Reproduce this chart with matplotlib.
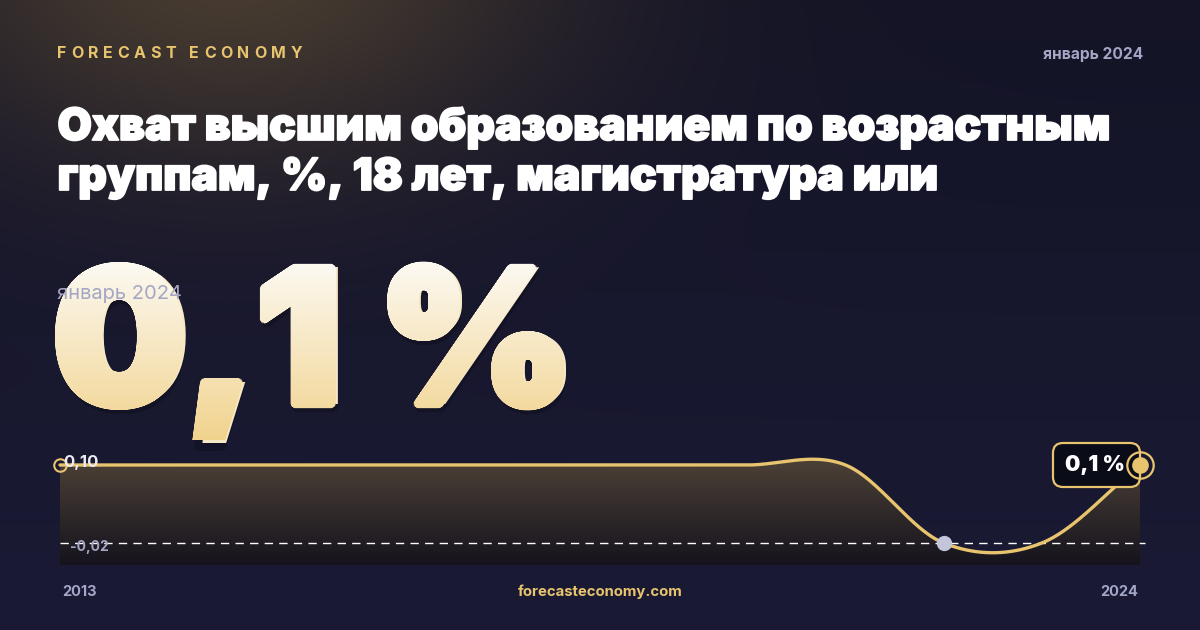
import numpy as np
import matplotlib
matplotlib.use('Agg')
import matplotlib.pyplot as plt
from matplotlib.textpath import TextPath
from matplotlib.font_manager import FontProperties, fontManager
from matplotlib.patches import PathPatch, FancyBboxPatch
from matplotlib.path import Path
from matplotlib.transforms import Affine2D
import matplotlib.colors as mcolors
import matplotlib.patheffects as pe

# ---------------- data ----------------
years = [2013, 2014, 2015, 2016, 2017, 2018, 2019, 2020, 2021, 2022, 2023, 2024]
values = [0.10, 0.10, 0.10, 0.10, 0.10, 0.10, 0.10, 0.10, 0.10, -0.02, -0.02, 0.10]
brand = "FORECAST ECONOMY"
period = "январь 2024"
title_lines = ["Охват высшим образованием по возрастным",
               "группам, %, 18 лет, магистратура или"]
big_value = "0,1 %"
badge_text = "0,1 %"
ytick_top = "0,10"
ytick_bottom = "-0,02"
x_first_label = "2013"
x_last_label = "2024"
site = "forecasteconomy.com"

# ---------------- fonts ----------------
def font_file(suffix):
    for f in fontManager.ttflist:
        if f.fname.endswith(suffix):
            return f.fname
    return None

def fprop(suffix, family, weight, size=None):
    p = font_file(suffix)
    if p:
        fpp = FontProperties(fname=p)
    else:
        fpp = FontProperties(family=family, weight=weight)
    if size:
        fpp.set_size(size)
    return fpp

W, H = 1200, 630
GOLD = "#e8c46e"
GREY = "#a3a6c4"
plt.rcParams['font.family'] = ['Inter', 'DejaVu Sans']

fig = plt.figure(figsize=(W / 100, H / 100), dpi=100)
renderer = fig.canvas.get_renderer()

fp_bold = lambda s: fprop('Inter-Bold.otf', 'Inter', 'bold', s)
fp_reg = lambda s: fprop('Inter-Regular.otf', 'Inter', 'normal', s)
fp_heavy = lambda s: fprop('Inter-Black.otf', 'Inter', 'black', s)

# background axes in pixel coordinates
ax_bg = fig.add_axes([0, 0, 1, 1], zorder=0)
ax_bg.set_xlim(0, W)
ax_bg.set_ylim(H, 0)
ax_bg.axis('off')

yy, xx = np.mgrid[0:H, 0:W]
top = np.array([0x14, 0x14, 0x26]) / 255.0
bot = np.array([0x1a, 0x1a, 0x35]) / 255.0
t = (yy / H)[..., None]
base = top * (1 - t) + bot * t
glow_c = np.array([0x48, 0x3c, 0x30]) / 255.0
d2 = ((xx - 230) / 420.0) ** 2 + ((yy + 40) / 260.0) ** 2
g = np.exp(-d2 * 1.6)[..., None]
img = base * (1 - g) + glow_c * g
ax_bg.imshow(img, extent=(0, W, H, 0), aspect='auto', zorder=0, interpolation='bilinear')

# ---------------- big number (real text + gradient overlay) ----------------
fp_big = fp_heavy(None)
tp = TextPath((0, 0), big_value, size=100, prop=fp_big)
tp0 = TextPath((0, 0), big_value[0], size=100, prop=fp_big)
bb = tp.get_extents()
bb0 = tp0.get_extents()
R = 4.0  # extra emboldening in px
s_big = (148.0 - 2 * R) / (bb0.y1 - bb0.y0)
x_left = 55 + R
baseline = 410 - R + bb0.y0 * s_big
tr = Affine2D().translate(-bb.x0, 0).scale(s_big, -s_big).translate(x_left, baseline)
path0 = tr.transform_path(tp)
copies = [path0]
for ang in np.linspace(0, 2 * np.pi, 16, endpoint=False):
    copies.append(Affine2D().translate(R * np.cos(ang), R * np.sin(ang)).transform_path(path0))
path = Path.make_compound_path(*copies)

shadow = PathPatch(Affine2D().translate(2, 4).transform_path(path),
                   facecolor='black', edgecolor='none', alpha=0.18, zorder=1)
ax_bg.add_patch(shadow)
clip = PathPatch(path, facecolor='none', edgecolor='none', zorder=2)
ax_bg.add_patch(clip)
# the real text, clipped to the same shape and covered by the gradient
big_pt = 100 * s_big * 72 / 100.0
big_txt = ax_bg.text(x_left, baseline, big_value, fontproperties=fp_heavy(big_pt),
                     color="#f7e8c6", ha='left', va='baseline', zorder=1.5)
big_txt.set_clip_path(clip)
c_top = np.array(mcolors.to_rgb("#fdfbf6"))
c_bot = np.array(mcolors.to_rgb("#f1d38e"))
gv = np.linspace(0, 1, 256)[:, None, None]
grad = c_top * (1 - gv) + c_bot * gv
grad = np.repeat(grad, 2, axis=1)
im = ax_bg.imshow(grad, extent=(40, 620, 440, 255), aspect='auto', zorder=2,
                  interpolation='bilinear')
im.set_clip_path(clip)
ax_bg.set_xlim(0, W)
ax_bg.set_ylim(H, 0)

# ---------------- chart ----------------
ax = fig.add_axes([60 / W, 65 / H, 1080 / W, 120 / H], zorder=1)
ax.patch.set_alpha(0)
for s in ax.spines.values():
    s.set_visible(False)
ax.set_xticks([])
ax.set_yticks([])

ymax, ymin = max(values), min(values)
span = ymax - ymin
ylo = ymin - span * 22 / 78
yhi = ymax + span * 20 / 78
ax.set_xlim(years[0], years[-1])
ax.set_ylim(ylo, yhi)

# Catmull-Rom style cubic Hermite curve through the points
xs_arr = np.array(years, dtype=float)
ys_arr = np.array(values, dtype=float)
n = len(xs_arr)
m = np.zeros(n)
for i in range(n):
    if i == 0:
        m[i] = ys_arr[1] - ys_arr[0]
    elif i == n - 1:
        m[i] = ys_arr[-1] - ys_arr[-2]
    else:
        m[i] = (ys_arr[i + 1] - ys_arr[i - 1]) / 2
cx, cy = [], []
for i in range(n - 1):
    tt = np.linspace(0, 1, 60, endpoint=(i == n - 2))
    h00 = 2 * tt**3 - 3 * tt**2 + 1
    h10 = tt**3 - 2 * tt**2 + tt
    h01 = -2 * tt**3 + 3 * tt**2
    h11 = tt**3 - tt**2
    cx.extend(xs_arr[i] + tt * (xs_arr[i + 1] - xs_arr[i]))
    cy.extend(h00 * ys_arr[i] + h10 * m[i] + h01 * ys_arr[i + 1] + h11 * m[i + 1])
cx = np.array(cx)
cy = np.array(cy)

poly = ax.fill_between(cx, cy, ylo, facecolor='none', edgecolor='none')
fc_top = np.array(mcolors.to_rgb("#4c4137"))
fc_bot = np.array(mcolors.to_rgb("#15131d"))
gv2 = np.linspace(0, 1, 256)[:, None, None]
fgrad = np.repeat(fc_top * (1 - gv2) + fc_bot * gv2, 2, axis=1)
fim = ax.imshow(fgrad, extent=(years[0], years[-1], ylo, cy.max()), aspect='auto',
                zorder=1, interpolation='bilinear')
fim.set_clip_path(poly.get_paths()[0], transform=ax.transData)
ax.set_xlim(years[0], years[-1])
ax.set_ylim(ylo, yhi)

ax.axhline(ymin, xmax=1.005, color='white', lw=1.0, dashes=(6, 4.5), zorder=2, clip_on=False)
ax.plot(cx, cy, color=GOLD, lw=2.4, zorder=3, clip_on=False, solid_capstyle='round')

# min marker
imin = int(np.argmin(values))
ax.plot(years[imin], values[imin], 'o', ms=10, color="#c3c6da", zorder=4, clip_on=False)
# start marker
ax.plot(years[0], values[0], 'o', ms=9, mfc='none', mec=GOLD, mew=1.5, zorder=4, clip_on=False)

# overlay axes for texts
ov = fig.add_axes([0, 0, 1, 1], zorder=2)
ov.set_xlim(0, W)
ov.set_ylim(H, 0)
ov.axis('off')
ov.patch.set_alpha(0)

def to_px(xd, yd):
    dx, dy = ax.transData.transform((xd, yd))
    return dx, H - dy

# badge
ex, ey = to_px(years[-1], values[-1])
box = FancyBboxPatch((ex - 87, ey - 22), 87, 44,
                     boxstyle="round,pad=0,rounding_size=10",
                     fc="#0a0c18", ec=GOLD, lw=1.6, zorder=5)
ov.add_patch(box)
ov.text(ex - 45, ey, badge_text, color='white', fontproperties=fp_heavy(15.5),
        ha='center', va='center', zorder=6)
ov.plot(ex, ey, 'o', ms=19, mfc='none', mec=GOLD, mew=1.6, zorder=7)
ov.plot(ex, ey, 'o', ms=11, color=GOLD, zorder=7)

# axis labels
ov.text(63, 462, ytick_top, color='#ecebf2', fontproperties=fp_bold(12),
        ha='left', va='center', zorder=6)
ov.text(70, 547, ytick_bottom, color=GREY, fontproperties=fp_bold(10),
        ha='left', va='center', zorder=6)
ov.text(62, 592, x_first_label, color=GREY, fontproperties=fp_bold(10.5),
        ha='left', va='center')
ov.text(1138, 592, x_last_label, color=GREY, fontproperties=fp_bold(10.5),
        ha='right', va='center')
ov.text(600, 592, site, color=GOLD, fontproperties=fp_bold(10.7),
        ha='center', va='center')

# header
def spaced(text, x0, x1, y, **kw):
    widths = []
    objs = []
    for ch in text:
        o = ov.text(0, y, ch, **kw)
        widths.append(o.get_window_extent(renderer=renderer).width if ch != ' ' else None)
        objs.append(o)
    sp_w = np.mean([w for w in widths if w]) * 0.35
    widths = [w if w is not None else sp_w for w in widths]
    gap = (x1 - x0 - sum(widths)) / (len(text) - 1)
    x = x0
    for o, w in zip(objs, widths):
        o.set_x(x)
        x += w + gap

spaced(brand, 57, 302, 53, color=GOLD, fontproperties=fp_bold(11.5),
       ha='left', va='center')
ov.text(1143, 55, period, color=GREY, fontproperties=fp_bold(11.2),
        ha='right', va='center')

# title: fit first line to the reference width
probe = ov.text(0, 0, title_lines[0], fontproperties=fp_heavy(32))
pw = probe.get_window_extent(renderer=renderer).width
probe.remove()
tsize = 32 * (1112 - 57) / pw
tsize = min(max(tsize, 28), 36)
title_fx = [pe.withStroke(linewidth=1.3, foreground='white')]
for line, yb in zip(title_lines, [140, 190]):
    ov.text(57.5, yb, line, color='white', fontproperties=fp_heavy(tsize),
            ha='left', va='baseline', path_effects=title_fx)

ov.text(57, 294, period, color=GREY, fontproperties=fp_reg(14.5),
        ha='left', va='center', zorder=8)

fig.savefig("out.png", dpi=100)
